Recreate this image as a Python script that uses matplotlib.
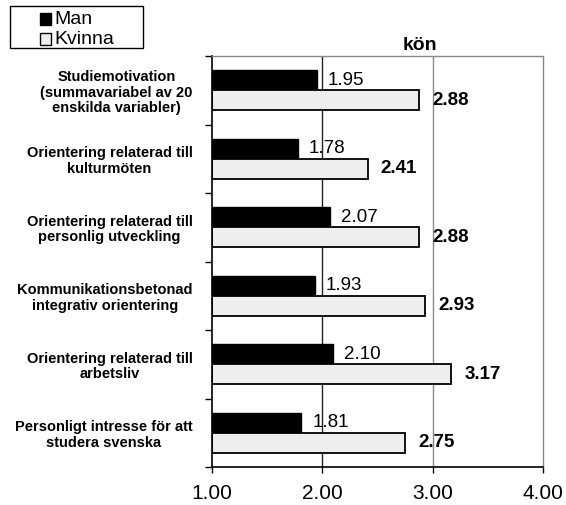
import matplotlib
matplotlib.use("Agg")
import matplotlib.pyplot as plt
from matplotlib.patches import Rectangle
import numpy as np

plt.rcParams['font.family'] = ['Liberation Sans', 'DejaVu Sans']

categories = [
    "Studiemotivation\n(summavariabel av 20\nenskilda variabler)",
    "Orientering relaterad till\nkulturmöten",
    "Orientering relaterad till\npersonlig utveckling",
    "Kommunikationsbetonad\nintegrativ orientering",
    "Orientering relaterad till\narbetsliv",
    "Personligt intresse för att\nstudera svenska",
]
series_names = ["Man", "Kvinna"]
man = [1.95, 1.78, 2.07, 1.93, 2.10, 1.81]
kvinna = [2.88, 2.41, 2.88, 2.93, 3.17, 2.75]
x_ticks = [1.00, 2.00, 3.00, 4.00]
x_ticklabels = ["1.00", "2.00", "3.00", "4.00"]
title = "kön"

W, H = 566, 505
fig = plt.figure(figsize=(W / 100, H / 100), dpi=100)
ax = fig.add_axes([212 / W, 1 - 467 / H, (543 - 212) / W, (467 - 56) / H])

xmin = 1.0
pos = np.arange(len(categories))
bh = 0.29

# reference gridlines
ax.axvline(2.0, color="#222222", lw=1.0, zorder=0)
ax.axvline(3.0, color="#888888", lw=1.0, zorder=0)

ax.barh(pos - bh / 2, np.array(man) - xmin, left=xmin, height=bh,
        color="black", edgecolor="black", lw=1.0, zorder=2)
ax.barh(pos + bh / 2, np.array(kvinna) - xmin, left=xmin, height=bh,
        color="#eeeeee", edgecolor="black", lw=1.3, zorder=2)

for p, v in zip(pos, man):
    ax.text(v + 0.10, p - bh / 2, f"{v:.2f}", ha="left", va="center",
            fontsize=13.5, color="black", zorder=3)
for p, v in zip(pos, kvinna):
    ax.text(v + 0.12, p + bh / 2, f"{v:.2f}", ha="left", va="center",
            fontsize=13.5, fontweight="bold", color="black", zorder=3)

ax.set_xlim(1.0, 4.0)
ax.set_ylim(len(categories) - 0.5, -0.5)

ax.set_xticks(x_ticks)
ax.set_xticklabels(x_ticklabels, fontsize=15)
ax.tick_params(axis="x", direction="out", length=4, width=1, pad=8, color="black")

ax.set_yticks(np.arange(len(categories) + 1) - 0.5)
ax.set_yticklabels([])
ax.set_yticks(pos, minor=True)
ax.set_yticklabels(categories, minor=True, fontsize=10.5, fontweight="bold")
ax.tick_params(axis="y", which="major", direction="out", length=5, width=1)
ax.tick_params(axis="y", which="minor", length=0, pad=14)
for lab in ax.get_yticklabels(minor=True):
    lab.set_multialignment("center")
    lab.set_linespacing(1.15)

for s in ["left", "bottom"]:
    ax.spines[s].set_color("black")
    ax.spines[s].set_linewidth(1.2)
for s in ["top", "right"]:
    ax.spines[s].set_color("#888888")
    ax.spines[s].set_linewidth(1.0)

fig.text(420 / W, 1 - 45 / H, title, ha="center", va="center",
         fontsize=14, fontweight="bold")

# legend box
fig.add_artist(Rectangle((10 / W, 1 - 48 / H), 133 / W, 42 / H,
                         transform=fig.transFigure, fill=False,
                         edgecolor="black", lw=1.0))
fills = ["black", "#eeeeee"]
rows = [19, 39]
for name, fc, ry in zip(series_names, fills, rows):
    fig.add_artist(Rectangle((40 / W, 1 - (ry + 5.5) / H), 11 / W, 11 / H,
                             transform=fig.transFigure, facecolor=fc,
                             edgecolor="black", lw=1.0))
    fig.text(54 / W, 1 - ry / H, name, ha="left", va="center", fontsize=14)

fig.savefig("out.png", dpi=100)
